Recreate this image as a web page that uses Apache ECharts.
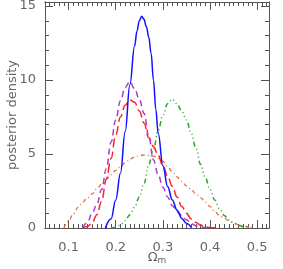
<!DOCTYPE html>
<html><head><meta charset="utf-8">
<script src="https://cdn.jsdelivr.net/npm/echarts@6/dist/echarts.min.js"></script>
<style>html,body{margin:0;padding:0;background:#fff}#c{width:283px;height:269px}</style>
</head><body><div id="c"></div>
<script>
// Data
const blueX = [0.178,0.19,0.20,0.21,0.22,0.23,0.24,0.245,0.25,0.255,0.26,0.265,0.27,0.275,0.28,0.285,0.29,0.30,0.31,0.32,0.33,0.34,0.35,0.36];
const blueY = [0,0.6,1.9,3.7,6.5,9.7,12.3,13.3,14.0,14.3,14.1,13.6,12.9,11.8,10.0,8.0,6.4,4.2,2.8,1.9,1.2,0.65,0.3,0.05];

const purpleX = [0.13,0.14,0.15,0.16,0.17,0.18,0.19,0.20,0.21,0.22,0.23,0.24,0.25,0.26,0.27,0.28,0.29,0.30,0.31,0.32,0.33,0.34,0.35,0.36,0.37,0.38,0.39,0.40];
const purpleY = [0,0.4,1.0,1.6,2.6,4.0,5.8,7.3,8.6,9.5,9.9,9.4,8.7,7.75,6.2,4.6,3.6,2.75,2.1,1.5,1.1,0.85,0.55,0.3,0.15,0.07,0.03,0];

const redX = [0.13,0.14,0.15,0.16,0.17,0.18,0.19,0.20,0.21,0.22,0.23,0.24,0.25,0.26,0.27,0.28,0.29,0.30,0.31,0.32,0.33,0.34,0.35,0.36,0.37,0.38,0.39,0.40,0.41,0.42];
const redY = [0,0.1,0.35,0.9,1.8,3.3,4.7,6.3,7.5,8.3,8.65,8.5,7.9,7.1,6.1,5.5,4.9,4.2,3.5,2.8,2.1,1.45,1.0,0.6,0.38,0.2,0.08,0.03,0.01,0];

const greenX = [0.19,0.20,0.21,0.22,0.23,0.24,0.25,0.26,0.27,0.28,0.29,0.30,0.31,0.32,0.33,0.34,0.35,0.36,0.37,0.38,0.39,0.40,0.41,0.42,0.43,0.44,0.45,0.46,0.47,0.48,0.49];
const greenY = [0,0.05,0.2,0.5,0.9,1.4,2.1,3.0,4.3,5.3,6.6,7.6,8.4,8.7,8.4,7.9,7.3,6.4,5.4,4.3,3.4,2.6,1.9,1.3,0.85,0.55,0.33,0.18,0.09,0.04,0];

const orangeX = [0.09,0.10,0.11,0.12,0.13,0.14,0.15,0.16,0.17,0.18,0.19,0.20,0.21,0.22,0.23,0.24,0.25,0.26,0.27,0.28,0.29,0.30,0.31,0.32,0.33,0.34,0.35,0.36,0.37,0.38,0.39,0.40,0.41,0.42,0.43,0.44,0.45,0.46,0.47,0.48,0.49];
const orangeY = [0,0.45,0.95,1.4,1.75,2.05,2.3,2.65,2.95,3.3,3.6,3.9,4.15,4.4,4.65,4.8,4.9,4.93,4.9,4.85,4.7,4.5,4.15,3.8,3.45,3.15,2.85,2.6,2.3,2.05,1.75,1.45,1.1,0.85,0.65,0.48,0.35,0.22,0.13,0.08,0];

const xMajorTicks = [0.1,0.2,0.3,0.4,0.5];
const yMajorTicks = [0,5,10,15];

function pairs(xs, ys){ return xs.map((x,i)=>[x, ys[i]]); }

const X_MIN = 0.05, X_MAX = 0.525, Y_MIN = 0, Y_MAX = 15.27;
const axisCol = '#555';
const labCol = '#666';

function xAx(pos, major, withLabels){
  return {
    type:'value', position:pos, min:X_MIN, max:X_MAX,
    interval: major ? undefined : 0.01,
    axisLine:{show:true, onZero:false, lineStyle:{color:axisCol, width:1}},
    axisTick:major ? {show:true, inside:true, length:8, lineStyle:{color:axisCol}, customValues:xMajorTicks}
                   : {show:true, inside:true, length:4, lineStyle:{color:axisCol}},
    axisLabel: withLabels ? {show:true, customValues:xMajorTicks, color:labCol, fontSize:13, fontFamily:'DejaVu Sans', margin:13,
                             formatter:v=>v.toFixed(1)} : {show:false},
    splitLine:{show:false},
    name: withLabels ? 'Ω{s|m}' : '',
    nameLocation:'middle', nameGap:22, nameMoveOverlap:false,
    nameTextStyle:{color:labCol, fontSize:13, fontFamily:'DejaVu Sans', lineHeight:16,
                   rich:{s:{fontSize:9, color:labCol, lineHeight:16, padding:[6,0,0,0]}}}
  };
}
function yAx(pos, major, withLabels){
  return {
    type:'value', position:pos, min:Y_MIN, max:Y_MAX,
    interval: major ? undefined : 1,
    axisLine:{show:true, onZero:false, lineStyle:{color:axisCol, width:1}},
    axisTick:major ? {show:true, inside:true, length:8, lineStyle:{color:axisCol}, customValues:yMajorTicks}
                   : {show:true, inside:true, length:4, lineStyle:{color:axisCol}},
    axisLabel: withLabels ? {show:true, customValues:yMajorTicks, color:labCol, fontSize:13, fontFamily:'DejaVu Sans', margin:9} : {show:false},
    splitLine:{show:false},
    name: withLabels ? 'posterior density' : '',
    nameLocation:'middle', nameGap:26, nameMoveOverlap:false,
    nameTextStyle:{color:labCol, fontSize:13, fontFamily:'DejaVu Sans'}
  };
}

function line(data, color, type, width){
  return {type:'line', data:data, xAxisIndex:0, yAxisIndex:0, showSymbol:false, smooth:0.4, smoothMonotone:'x',
          lineStyle:{color:color, width:width||1.5, type:type}, z:3};
}

const chart = echarts.init(document.getElementById('c'), null, {renderer:'canvas'});
chart.setOption({
  animation:false,
  grid:{left:45, right:14, top:2, bottom:41, containLabel:false, outerBoundsMode:'none'},
  xAxis:[xAx('bottom',true,true), xAx('bottom',false,false), xAx('top',true,false), xAx('top',false,false)],
  yAxis:[yAx('left',true,true), yAx('left',false,false), yAx('right',true,false), yAx('right',false,false)],
  series:[
    line(pairs(orangeX, orangeY), '#e0703a', [4,3,1,3], 1.3),
    line(pairs(greenX, greenY), '#2aa82a', [5,3,1,3,1,3,1,3], 1.5),
    line(pairs(redX, redY), '#ff2020', [9,4], 1.5),
    line(pairs(purpleX, purpleY), '#b03ad0', [6,4], 1.5),
    line(pairs(blueX, blueY), '#1010ff', 'solid', 1.5)
  ]
});
</script>
</body></html>
